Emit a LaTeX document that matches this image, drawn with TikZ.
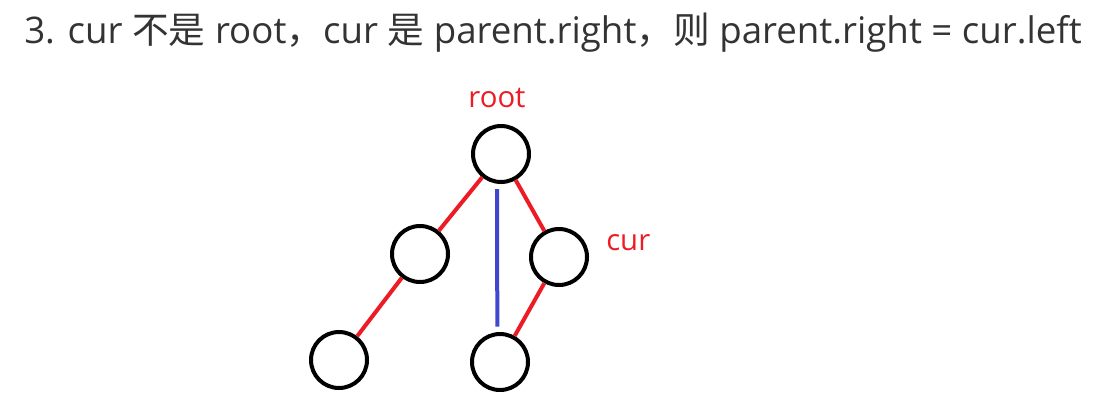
\documentclass[tikz,border=0pt]{standalone}
\usepackage{fontspec}
\setmainfont{Open Sans}
\newfontfamily\cjk{Noto Sans CJK SC}
\usepackage{xcolor}
\definecolor{ink}{RGB}{51,51,51}
\definecolor{paintred}{RGB}{237,28,36}
\definecolor{paintblue}{RGB}{63,72,204}
\usepackage{tikz}
\usetikzlibrary{positioning}
\tikzset{
  treenode/.style={circle, draw=black, line width=3pt, minimum size=42pt, inner sep=0pt},
  rededge/.style={draw=paintred, line width=3pt},
  blueedge/.style={draw=paintblue, line width=3pt, shorten <=3.75pt, shorten >=4pt},
  redlabel/.style={text=paintred, font=\fontsize{22}{26}\selectfont, inner sep=0pt},
  heading/.style={text=ink, font=\fontsize{27.5}{32}\selectfont, inner sep=0pt},
}

\begin{document}
\begin{tikzpicture}[x=0.75pt, y=-0.75pt]
\useasboundingbox (0,0) rectangle (1119,400);
\node[heading, anchor=base west] (title) at (24,43)
  {3. cur {\cjk 不是} root{\cjk ，}cur {\cjk 是} parent.right{\cjk ，则} parent.right = cur.left};

% the tree
\node[treenode] (root) at (501,154) {};
\node[treenode] (left) at (420,254) {};
\node[treenode] (cur) at (559,257) {};
\node[treenode] (leftleaf) at (339,360) {};
\node[treenode] (curleft) at (500,362) {};

\node[redlabel, anchor=base] (rootlbl) at (497,107) {root};
\node[redlabel, anchor=base west] (curlbl) at (606,250) {cur};

\draw[rededge] (root) -- (left);
\draw[rededge] (root) -- (cur);
\draw[rededge] (left) -- (leftleaf);
\draw[rededge] (cur) -- (curleft);
\draw[blueedge] ([xshift=-3pt]root.south) -- ([xshift=-2pt]curleft.north);
\end{tikzpicture}
\end{document}
